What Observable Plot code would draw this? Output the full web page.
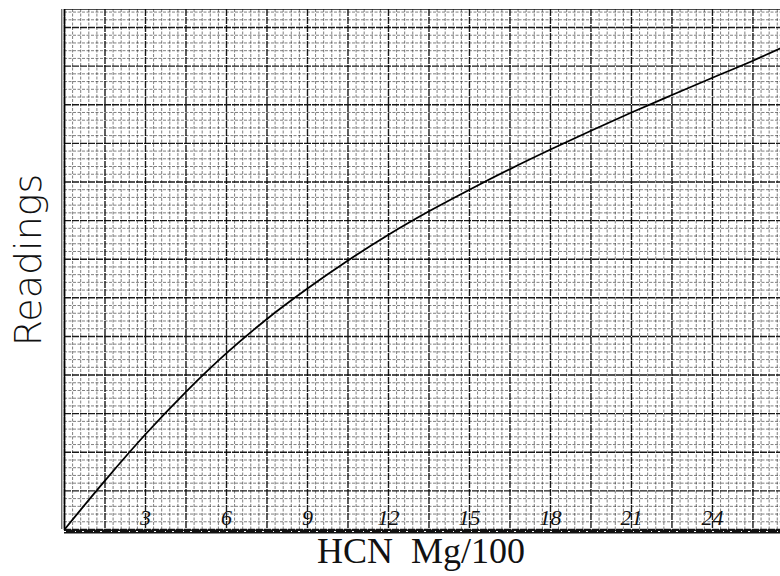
<!DOCTYPE html>
<html>
<head>
<meta charset="utf-8">
<script src="https://cdn.jsdelivr.net/npm/d3@7"></script>
<script src="https://cdn.jsdelivr.net/npm/@observablehq/plot@0.6"></script>
<style>
  html, body { margin: 0; padding: 0; background: #fff; }
  #chart { width: 780px; height: 576px; }
</style>
</head>
<body>
<div id="chart"></div>
<script>
// HCN concentration (Mg/100)
const hcn = [0, 1.5, 3, 4.5, 6, 7.5, 9, 10.5, 12, 13.5, 15, 16.5, 18, 19.5, 21, 22.5, 24, 25.5, 26.5];
// Readings (no printed scale; estimated in graph-paper units)
const readings = [0, 1.90, 3.70, 5.35, 6.85, 8.18, 9.36, 10.45, 11.45, 12.36, 13.20, 14.00, 14.76, 15.49, 16.20, 16.88, 17.55, 18.21, 18.68];
// hand-written tick labels along the x axis
const xTickLabels = [3, 6, 9, 12, 15, 18, 21, 24];

const xMax = 26.52, yMax = 20.2;
const curve = hcn.map((x, i) => ({x, y: readings[i]}));

const minorX = d3.range(0, 89).map(i => +(i * 0.3).toFixed(2)).filter(v => v <= xMax && Math.round(v * 10) % 15 !== 0);
const majorX = d3.range(0, 18).map(i => i * 1.5).filter(v => v <= xMax);
const minorY = d3.range(0, 68).map(i => +(i * 0.3).toFixed(2)).filter(v => v <= yMax && Math.round(v * 10) % 15 !== 0);
const majorY = d3.range(0, 14).map(i => i * 1.5).filter(v => v <= yMax);

const chart = Plot.plot({
  width: 780,
  height: 576,
  marginLeft: 64,
  marginRight: 0,
  marginTop: 9,
  marginBottom: 47,
  x: {domain: [0, xMax], axis: null},
  y: {domain: [0, yMax], axis: null},
  style: {background: "#fff"},
  marks: [
    Plot.ruleX(minorX, {stroke: "#000", strokeOpacity: 0.5, strokeWidth: 1, strokeDasharray: "3,1.5"}),
    Plot.ruleY(minorY, {stroke: "#000", strokeOpacity: 0.5, strokeWidth: 1, strokeDasharray: "3,1.5"}),
    Plot.ruleX(majorX, {stroke: "#000", strokeOpacity: 0.9, strokeWidth: 1.4, strokeDasharray: "7,1"}),
    Plot.ruleY(majorY, {stroke: "#000", strokeOpacity: 0.9, strokeWidth: 1.4, strokeDasharray: "7,1"}),
    Plot.ruleY([yMax], {stroke: "#000", strokeOpacity: 0.7, strokeWidth: 1}),
    Plot.ruleX([0], {stroke: "#000", strokeWidth: 1.6}),
    Plot.ruleX([-0.1], {stroke: "#000", strokeWidth: 1, strokeOpacity: 0.8}),
    Plot.ruleY([0], {stroke: "#111", strokeWidth: 4, dy: 2}),
    Plot.ruleY([0], {stroke: "#fff", strokeWidth: 1.2, strokeDasharray: "2,9,1,6", dy: 2}),
    Plot.text(xTickLabels, {
      x: d => d, y: 0, text: d => String(d),
      dy: -12, fontSize: 22, fontStyle: "italic", fontFamily: "Liberation Serif",
      fill: "#111", textAnchor: "middle", lineAnchor: "middle"
    }),
    Plot.line(curve, {x: "x", y: "y", curve: "monotone-x", stroke: "#000", strokeWidth: 1.8})
  ]
});

document.getElementById("chart").appendChild(chart);

const svg = d3.select(chart);
svg.append("text")
  .attr("x", 421).attr("y", 563)
  .attr("text-anchor", "middle")
  .attr("font-family", "Liberation Serif, serif")
  .attr("font-size", 36)
  .attr("fill", "#111")
  .style("white-space", "pre")
  .text("HCN  Mg/100");

svg.append("text")
  .attr("transform", "translate(41,260) rotate(-90)")
  .attr("text-anchor", "middle")
  .attr("font-family", "DejaVu Sans, sans-serif")
  .attr("font-weight", 200)
  .attr("font-size", 38)
  .attr("fill", "#111")
  .text("Readings");
</script>
</body>
</html>
